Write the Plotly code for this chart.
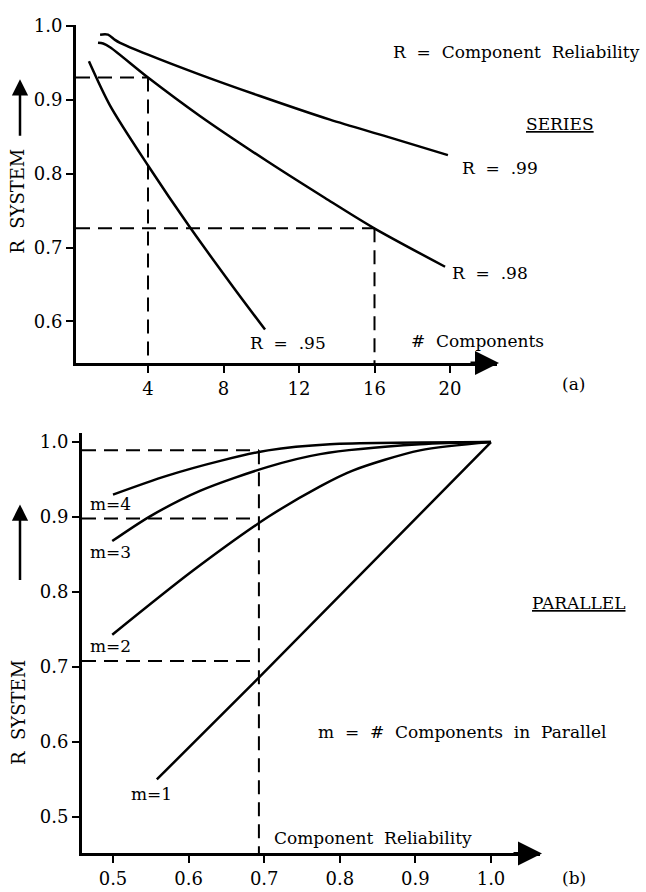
import plotly.graph_objects as go

W, H = 646, 892
FONT = "DejaVu Serif"

# ---------- (a) SERIES ----------
r99_n = [1.46, 1.88, 2.25, 2.52, 4.0, 6.75, 9.93, 13.64, 16.66, 19.89]
r99_y = [0.988, 0.988, 0.981, 0.977, 0.961, 0.934, 0.905, 0.873, 0.850, 0.825]
r98_n = [1.35, 1.62, 1.99, 4.0, 6.75, 10.30, 13.38, 15.92, 19.74]
r98_y = [0.977, 0.976, 0.971, 0.930, 0.878, 0.817, 0.767, 0.727, 0.674]
r95_n = [0.87, 1.99, 4.0, 6.23, 8.50, 10.20]
r95_y = [0.952, 0.892, 0.811, 0.727, 0.647, 0.589]
series_xticks = [4, 8, 12, 16, 20]
series_yticks = [0.6, 0.7, 0.8, 0.9, 1.0]
series_guides = [(4, 0.93), (16, 0.726)]  # (n, R system)

# ---------- (b) PARALLEL ----------
m1_x = [0.558, 0.705, 1.0]
m1_y = [0.550, 0.698, 1.0]
m2_x = [0.499, 0.605, 0.705, 0.774, 0.817, 0.906, 1.0]
m2_y = [0.743, 0.828, 0.900, 0.941, 0.962, 0.989, 1.0]
m3_x = [0.499, 0.549, 0.615, 0.705, 0.774, 0.906, 1.0]
m3_y = [0.868, 0.901, 0.935, 0.967, 0.984, 0.997, 1.0]
m4_x = [0.5, 0.571, 0.642, 0.705, 0.787, 1.0]
m4_y = [0.930, 0.955, 0.975, 0.989, 0.997, 1.0]
par_xticks = [0.5, 0.6, 0.7, 0.8, 0.9, 1.0]
par_yticks = [0.5, 0.6, 0.7, 0.8, 0.9, 1.0]
par_guide_x = 0.693
par_guide_y = [0.989, 0.898, 0.708]

# axis ranges / domains
xr1 = [0.185, 22.49]
yr1 = [0.5438, 1.0013]
xr2 = [0.459, 1.0648]
yr2 = [0.4512, 1.0119]

fig = go.Figure()
LW = 2.5

def curve(x, y, xa, ya, shape="spline"):
    fig.add_trace(go.Scatter(x=x, y=y, mode="lines", xaxis=xa, yaxis=ya,
                             line=dict(color="black", width=LW, shape=shape, smoothing=0.8),
                             showlegend=False, hoverinfo="skip"))

def dashed(x, y, xa, ya):
    fig.add_trace(go.Scatter(x=x, y=y, mode="lines", xaxis=xa, yaxis=ya,
                             line=dict(color="black", width=2, dash="14px,8px"),
                             showlegend=False, hoverinfo="skip"))

for x, y in [(r99_n, r99_y), (r98_n, r98_y), (r95_n, r95_y)]:
    curve(x, y, "x", "y")
for gx, gy in series_guides:
    dashed([xr1[0], gx], [gy, gy], "x", "y")
    dashed([gx, gx], [gy, yr1[0]], "x", "y")

curve(m1_x, m1_y, "x2", "y2", shape="linear")
for x, y in [(m2_x, m2_y), (m3_x, m3_y), (m4_x, m4_y)]:
    curve(x, y, "x2", "y2")
for gy in par_guide_y:
    dashed([xr2[0], par_guide_x], [gy, gy], "x2", "y2")
dashed([par_guide_x, par_guide_x], [par_guide_y[0], yr2[0]], "x2", "y2")

axis_common = dict(showline=True, linecolor="black", linewidth=3, ticks="outside",
                   ticklen=7, tickwidth=2, tickcolor="black", showgrid=False,
                   zeroline=False, tickformat=".1f",
                   tickfont=dict(family=FONT, size=18, color="black"))

fig.update_layout(
    width=W, height=H, margin=dict(l=0, r=0, t=0, b=0),
    paper_bgcolor="white", plot_bgcolor="white",
    xaxis=dict(axis_common, domain=[76 / W, 497 / W], range=xr1, anchor="y",
               tickvals=series_xticks, tickformat="d"),
    yaxis=dict(axis_common, domain=[1 - 357 / H, 1 - 15 / H], range=yr1, anchor="x",
               tickvals=series_yticks),
    xaxis2=dict(axis_common, domain=[82 / W, 540 / W], range=xr2, anchor="y2",
                tickvals=par_xticks),
    yaxis2=dict(axis_common, domain=[1 - 853 / H, 1 - 428 / H], range=yr2, anchor="x2",
                tickvals=par_yticks),
)

def txt(s, px, py, size=17, angle=0, xanchor="center"):
    fig.add_annotation(text=s, x=px / W, y=1 - py / H, xref="paper", yref="paper",
                       showarrow=False, xanchor=xanchor, yanchor="middle",
                       textangle=angle, font=dict(family=FONT, size=size, color="black"))

# texts (a)
txt("R  =  Component  Reliability", 516, 42)
txt("<u>SERIES</u>", 560, 115)
txt("R  =  .99", 500, 160)
txt("R  =  .98", 490, 266)
txt("R  =  .95", 288, 337)
txt("#  Components", 477, 335)
txt("(a)", 573, 378)
txt("R  SYSTEM", 18, 194, size=18, angle=-90)
# texts (b)
txt("m=4", 110, 500)
txt("m=3", 110, 548)
txt("m=2", 110, 643)
txt("m=1", 151, 793)
txt("m  =  #  Components  in  Parallel", 462, 730)
txt("<u>PARALLEL</u>", 579, 600)
txt("Component  Reliability", 272, 837, xanchor="left")
txt("(b)", 574, 878)
txt("R  SYSTEM", 18, 711, size=18, angle=-90)

def arrow(hx, hy, ax, ay, width=2.5, size=1.3):
    fig.add_annotation(x=hx / W, y=1 - hy / H, xref="paper", yref="paper",
                       ax=ax, ay=ay, showarrow=True, arrowhead=2, arrowsize=size,
                       arrowwidth=width, arrowcolor="black", text="")

# vertical "R SYSTEM" arrows
arrow(20, 70, 0, 58)
arrow(20, 500, 0, 77)
# axis arrowheads
arrow(499, 357, -30, 0, width=3, size=1.6)
arrow(542, 853, -30, 0, width=3, size=1.6)

fig.write_html("out.html")
